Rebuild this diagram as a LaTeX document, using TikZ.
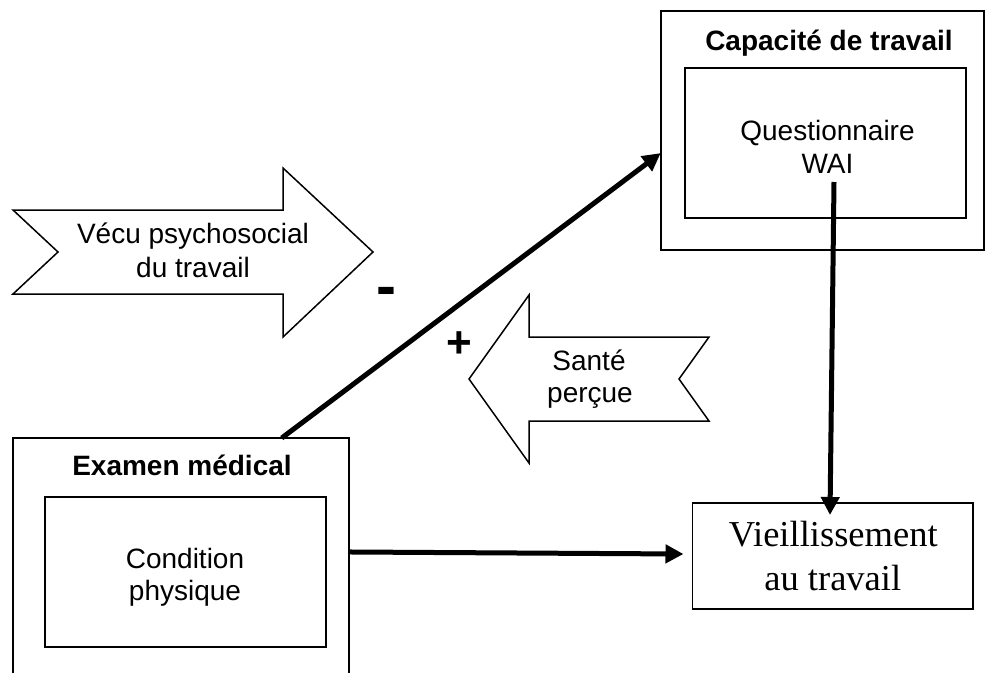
\documentclass[tikz,border=0pt]{standalone}
\usepackage{fontspec}
\setmainfont{Liberation Sans}
\newfontfamily\timesfont{Liberation Serif}
\usetikzlibrary{arrows.meta,calc}
\begin{document}
\begin{tikzpicture}[x=1pt,y=-1pt,
 box/.style={draw, line width=1.8pt, inner sep=0pt, outer sep=0pt, rectangle},
 lbl/.style={anchor=base, inner sep=0pt, font=\fontsize{28}{33}\selectfont},
 blbl/.style={anchor=base, inner sep=0pt, font=\fontsize{28}{33}\selectfont\bfseries},
 tlbl/.style={anchor=base, inner sep=0pt, font=\fontsize{36.5}{43}\selectfont\timesfont},
 conn/.style={line width=5pt, -{Triangle[length=18pt,width=18pt]}},
 bigarrow/.style={draw, line width=1.5pt, line join=miter},
 sign/.style={anchor=base, inner sep=0pt, font=\fontsize{44}{50}\selectfont\bfseries}]
\useasboundingbox (0,0) rectangle (986,673);

% Capacite de travail
\node[box, minimum width=323.3pt, minimum height=239.3pt] (cap) at (822.35,130.35) {};
\node[box, minimum width=280.7pt, minimum height=150.6pt] (qbox) at (825.35,143) {};
\node[blbl] (captitle) at (829,50) {Capacité de travail};
\node[lbl] (q1) at (827.5,140) {Questionnaire};
\node[lbl] (q2) at (827.5,173) {WAI};

% Examen medical (open at the bottom)
\node[inner sep=0pt, outer sep=0pt, minimum width=336.3pt, minimum height=235pt] (exam) at (180.85,555.5) {};
\draw[line width=1.8pt] (exam.south west) -- (exam.north west) -- (exam.north east) -- (exam.south east);
\node[box, minimum width=281pt, minimum height=150pt] (cbox) at (185.5,572) {};
\node[blbl] (examtitle) at (182,475) {Examen médical};
\node[lbl] (c1) at (185,568) {Condition};
\node[lbl] (c2) at (185,600) {physique};

% Vieillissement au travail
\node[box, minimum width=280.5pt, minimum height=106pt] (vieil) at (832.75,556) {};
\node[tlbl] (v1) at (833.3,546.7) {Vieillissement};
\node[tlbl] (v2) at (832.8,590) {au travail};

% Vecu psychosocial arrow
\draw[bigarrow] (13,210) -- (283,210) -- (283,168) -- (373,252) -- (283,337) -- (283,294) -- (13,294) -- (58,252) -- cycle;
\node[lbl] (vec1) at (193,243) {Vécu psychosocial};
\node[lbl] (vec2) at (193,277) {du travail};

% Sante percue arrow
\draw[bigarrow] (469,379) -- (529,295) -- (529,337) -- (709,337) -- (679,379) -- (709,421) -- (529,421) -- (529,463) -- cycle;
\node[lbl] (s1) at (589,370) {Santé};
\node[lbl] (s2) at (590,402) {perçue};

% signs
\node[sign, font=\fontsize{60}{66}\selectfont\bfseries] (minus) at (386,306) {-};
\node[sign] (plus) at (459,357) {+};

% connectors
\coordinate (vstart) at (834,182);
\coordinate (vend) at (830,515);
\draw[conn] ($(exam.north west)!0.8!(exam.north east)$) -- ($(cap.north west)!0.595!(cap.south west)$);
\draw[conn] ($(exam.north east)!0.485!(exam.south east)$) -- ([xshift=-9pt,yshift=2pt]vieil.west);
\draw[conn] (vstart) -- (vend);
\end{tikzpicture}
\end{document}
